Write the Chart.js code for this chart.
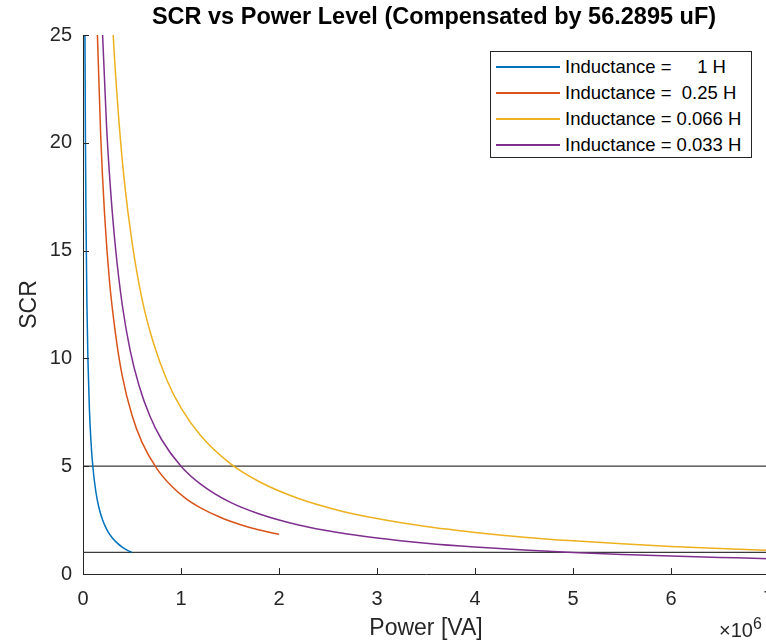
<!DOCTYPE html>
<html lang="en">
<head>
<meta charset="UTF-8">
<title>SCR vs Power Level</title>
<script src="https://cdn.jsdelivr.net/npm/chart.js"></script>
<style>
  body { margin: 0; background: #fff; overflow: hidden; font-family: "Liberation Sans", Arial, sans-serif; }
  .wrap { position: relative; width: 790px; height: 642px; }
  #legend { position: absolute; left: 490px; top: 51px; width: 262px; height: 107px; border: 1px solid #262626; background: #fff; box-sizing: border-box; padding-top: 2px; }
  .row { display: flex; align-items: center; height: 26px; font-size: 18.5px; color: #000; white-space: pre; }
  .swatch { display: inline-block; width: 64px; height: 1.5px; margin-left: 5px; margin-right: 5px; }
</style>
</head>
<body>
<div class="wrap">
  <canvas id="scrChart" width="790" height="642"></canvas>
  <div id="legend"></div>
</div>

<script>
// power in units of 10^6 VA, SCR
const seriesNames = ["Inductance =     1 H", "Inductance =  0.25 H", "Inductance = 0.066 H", "Inductance = 0.033 H"];
const seriesColors = ["#0072BD", "#D95319", "#EDB120", "#7E2F8E"];

const power1H = [0.015, 0.02, 0.025, 0.03, 0.04, 0.05, 0.065, 0.08, 0.1, 0.13, 0.16, 0.2, 0.25, 0.3, 0.35, 0.4, 0.45, 0.5];
const scr1H = [33.3, 25.0, 20.0, 16.7, 12.5, 10.0, 7.69, 6.25, 5.0, 3.85, 3.13, 2.5, 2.0, 1.67, 1.43, 1.25, 1.11, 1.0];

const power025H = [0.12, 0.147, 0.18, 0.22, 0.27, 0.33, 0.4, 0.5, 0.6, 0.75, 0.9, 1.05, 1.2, 1.4, 1.6, 1.8, 2.0];
const scr025H = [30.7, 25.0, 20.4, 16.7, 13.6, 11.2, 9.2, 7.36, 6.13, 4.91, 4.09, 3.5, 3.07, 2.63, 2.3, 2.04, 1.84];

const power0066H = [0.26, 0.308, 0.36, 0.42, 0.5, 0.6, 0.72, 0.86, 1.0, 1.2, 1.5, 1.8, 2.2, 2.6, 3.0, 3.5, 4.0, 4.5, 5.0, 5.5, 6.0, 6.5, 7.0, 7.2];
const scr0066H = [29.6, 25.0, 21.4, 18.3, 15.4, 12.8, 10.7, 8.95, 7.7, 6.42, 5.13, 4.28, 3.5, 2.96, 2.57, 2.2, 1.93, 1.71, 1.54, 1.4, 1.28, 1.18, 1.1, 1.07];

const power0033H = [0.17, 0.2, 0.24, 0.28, 0.33, 0.4, 0.48, 0.57, 0.68, 0.8, 1.0, 1.2, 1.5, 1.8, 2.2, 2.6, 3.0, 3.5, 4.0, 4.5, 5.0, 5.5, 6.0, 6.5, 7.0, 7.2];
const scr0033H = [29.4, 25.0, 20.8, 17.9, 15.2, 12.5, 10.4, 8.77, 7.35, 6.25, 5.0, 4.17, 3.33, 2.78, 2.27, 1.92, 1.67, 1.43, 1.25, 1.11, 1.0, 0.91, 0.83, 0.77, 0.71, 0.69];

const refLevels = [5, 1];
const refSpan = [0, 7.5];

const xTicks = [0, 1, 2, 3, 4, 5, 6, 7];
const yTicks = [0, 5, 10, 15, 20, 25];

const titleText = "SCR vs Power Level (Compensated by 56.2895 uF)";
const axisColor = "#262626";

function toPoints(xs, ys) {
    return xs.map((x, i) => ({ x: x, y: ys[i] }));
}

const curves = [[power1H, scr1H], [power025H, scr025H], [power0066H, scr0066H], [power0033H, scr0033H]];

const datasets = curves.map((c, i) => ({
    label: seriesNames[i],
    data: toPoints(c[0], c[1]),
    borderColor: seriesColors[i],
    borderWidth: 1.5,
    pointRadius: 0,
    cubicInterpolationMode: "monotone",
    fill: false
}));

refLevels.forEach(level => {
    datasets.push({
        label: "SCR = " + level,
        data: refSpan.map(x => ({ x: x, y: level })),
        borderColor: "#3a3a3a",
        borderWidth: 1.3,
        pointRadius: 0,
        fill: false
    });
});

// MATLAB style ticks pointing into the axes, plus title and exponent label
const matlabDecor = {
    id: "matlabDecor",
    afterDraw(chart) {
        const ctx = chart.ctx;
        const xs = chart.scales.x, ys = chart.scales.y;
        const area = chart.chartArea;
        ctx.save();
        ctx.strokeStyle = axisColor;
        ctx.lineWidth = 1;
        ctx.beginPath();
        xTicks.forEach(v => {
            const px = Math.round(xs.getPixelForValue(v)) + 0.5;
            ctx.moveTo(px, area.bottom);
            ctx.lineTo(px, area.bottom - 6);
        });
        yTicks.forEach(v => {
            const py = Math.round(ys.getPixelForValue(v)) + 0.5;
            ctx.moveTo(area.left, py);
            ctx.lineTo(area.left + 6, py);
        });
        ctx.stroke();

        ctx.fillStyle = "#000";
        ctx.font = "bold 23.5px 'Liberation Sans', Arial, sans-serif";
        ctx.textAlign = "center";
        ctx.textBaseline = "alphabetic";
        ctx.fillText(titleText, 434, 24);

        ctx.fillStyle = axisColor;
        ctx.textAlign = "left";
        ctx.font = "20px 'Liberation Sans', Arial, sans-serif";
        ctx.fillText("\u00d710", 719, 637);
        const w = ctx.measureText("\u00d710").width;
        ctx.font = "16px 'Liberation Sans', Arial, sans-serif";
        ctx.fillText("6", 719 + w, 629);
        ctx.restore();
    }
};

Chart.defaults.font.family = "'Liberation Sans', Arial, sans-serif";

new Chart(document.getElementById("scrChart").getContext("2d"), {
    type: "line",
    data: { datasets: datasets },
    options: {
        responsive: false,
        animation: false,
        events: [],
        layout: { padding: { top: 35, right: 21, left: 0, bottom: 0 } },
        plugins: { legend: { display: false }, tooltip: { enabled: false }, title: { display: false } },
        scales: {
            x: {
                type: "linear",
                min: 0,
                max: 7,
                afterFit: s => { s.height = 68; },
                afterBuildTicks: s => { s.ticks = xTicks.map(v => ({ value: v })); },
                ticks: { padding: 13, color: axisColor, font: { size: 20 }, maxRotation: 0, autoSkip: false },
                grid: { display: false, drawTicks: false },
                border: { display: true, color: axisColor, width: 1 },
                title: { display: true, text: "Power [VA]", color: axisColor, font: { size: 23 }, padding: { top: 0, bottom: 0 } }
            },
            y: {
                type: "linear",
                min: 0,
                max: 25,
                afterFit: s => { s.width = 83; },
                afterBuildTicks: s => { s.ticks = yTicks.map(v => ({ value: v })); },
                ticks: { padding: 11, color: axisColor, font: { size: 20 } },
                grid: { display: false, drawTicks: false },
                border: { display: true, color: axisColor, width: 1 },
                title: { display: true, text: "SCR", color: axisColor, font: { size: 23 }, padding: { top: 16, bottom: 0 } }
            }
        }
    },
    plugins: [matlabDecor]
});

// legend box in the upper right corner
document.getElementById("legend").innerHTML = seriesNames.map((name, i) =>
    `<div class="row"><span class="swatch" style="background-color:${seriesColors[i]}"></span><span>${name}</span></div>`
).join("");
</script>
</body>
</html>
